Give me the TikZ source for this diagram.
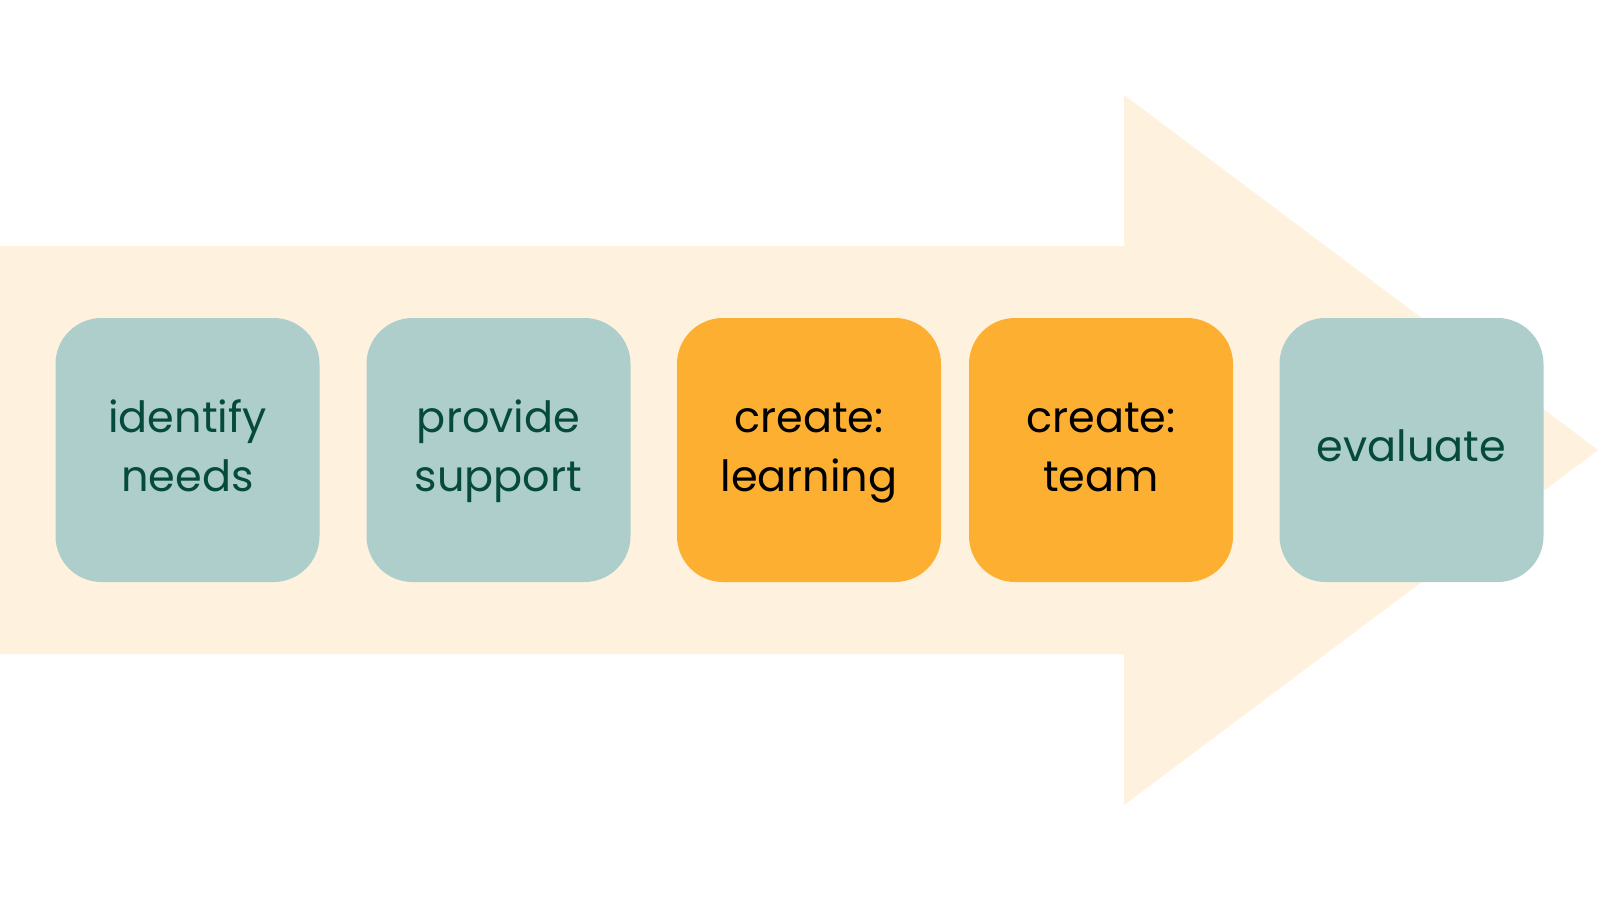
\documentclass[tikz,border=0pt]{standalone}
\usepackage{fontspec}
\setmainfont{Poppins}
\definecolor{cream}{HTML}{FEF1DE}
\definecolor{teal}{HTML}{AECECB}
\definecolor{amber}{HTML}{FCAF30}
\definecolor{darkgreen}{HTML}{064A3D}
\tikzset{
  stepbox/.style={minimum width=264pt, minimum height=264pt, rounded corners=46pt,
    inner sep=0pt, align=center, font=\fontsize{43pt}{59pt}\selectfont},
  tealbox/.style={stepbox, fill=teal, text=darkgreen},
  amberbox/.style={stepbox, fill=amber, text=black}
}
\begin{document}
\begin{tikzpicture}[x=1pt,y=-1pt]
\useasboundingbox (0,0) rectangle (1600,900);
\fill[cream] (0,246) -- (1124,246) -- (1124,95) -- (1598,450) -- (1124,805) -- (1124,654) -- (0,654) -- cycle;
\node[tealbox] (n1) at (187.5,450) {identify\strut\\needs\strut};
\node[tealbox] (n2) at (498.5,450) {provide\strut\\support\strut};
\node[amberbox] (n3) at (809,450) {create:\strut\\learning\strut};
\node[amberbox] (n4) at (1101,450) {create:\strut\\team\strut};
\node[tealbox] (n5) at (1411.5,450) {evaluate\strut};
\end{tikzpicture}
\end{document}
